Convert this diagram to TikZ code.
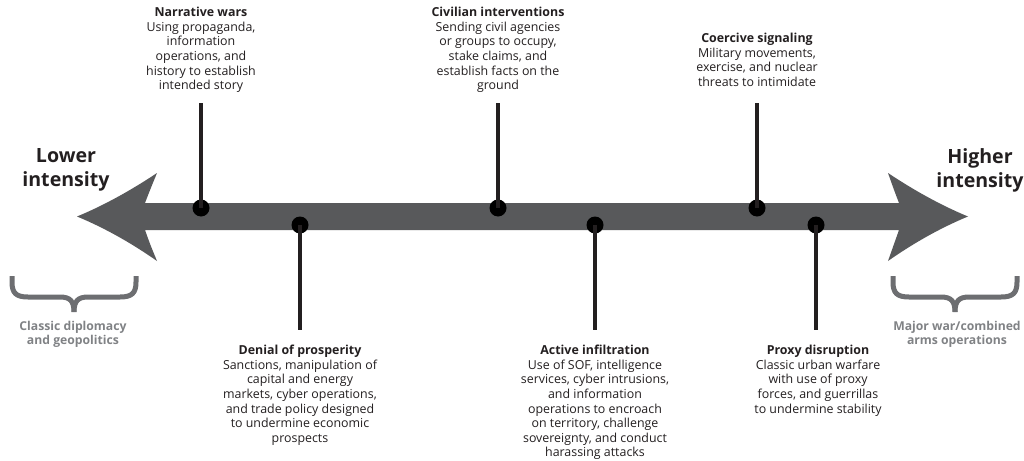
\documentclass[tikz,border=0pt]{standalone}
\usepackage{fontspec}
\setmainfont{Open Sans}
\definecolor{arrowgray}{HTML}{58595B}
\definecolor{bracegray}{HTML}{6D6E71}
\definecolor{notegray}{HTML}{808285}
\definecolor{ink}{HTML}{231F20}
\tikzset{
  desc/.style={align=center, text=ink, font=\fontsize{12.4}{14.6}\selectfont, inner sep=0pt},
  endlabel/.style={align=center, text=ink, font=\fontsize{19.6}{24}\selectfont\bfseries, inner sep=0pt},
  note/.style={align=center, text=notegray, font=\fontsize{12.2}{14}\selectfont\bfseries, inner sep=0pt},
  stem/.style={line width=4pt, ink},
  dot/.style={circle, fill=black, minimum size=17pt, inner sep=0pt},
  bracket/.style={line width=5pt, bracegray, line cap=butt}
}
\begin{document}
\begin{tikzpicture}[x=1pt,y=-1pt]
\useasboundingbox (0,0) rectangle (1024,460);
% big double arrow
\fill[arrowgray] (899,203) .. controls (894,190) .. (888,173)
  .. controls (918,193) and (945,207) .. (968,216.5)
  .. controls (945,226) and (918,240) .. (888,261)
  .. controls (894,244) .. (899,230)
  -- (145,230) .. controls (150,244) .. (157,261)
  .. controls (127,240) and (100,226) .. (77,216.5)
  .. controls (100,207) and (127,193) .. (157,173)
  .. controls (150,190) .. (145,203) -- cycle;
% end labels
\node[endlabel] (low) at (66,170) {Lower\\intensity};
\node[endlabel] (high) at (980,170) {Higher\\intensity};
% braces
\draw[bracket] (12,276) -- (12,282) .. controls (12,293) and (16,297) .. (28,297) -- (60,297) .. controls (70,297) and (74,301) .. (74,312);
\draw[bracket] (136,276) -- (136,282) .. controls (136,293) and (132,297) .. (120,297) -- (88,297) .. controls (78,297) and (74,301) .. (74,312);
\draw[bracket] (893,276) -- (893,282) .. controls (893,293) and (897,297) .. (909,297) -- (941,297) .. controls (951,297) and (955,301) .. (955,312);
\draw[bracket] (1017,276) -- (1017,282) .. controls (1017,293) and (1013,297) .. (1001,297) -- (969,297) .. controls (959,297) and (955,301) .. (955,312);
\node[note] (lownote) at (73,334) {Classic diplomacy\\and geopolitics};
\node[note] (highnote) at (957,334) {Major war/combined\\arms operations};
% top items
\node[desc, anchor=north] (nw) at (201,7) {\textbf{Narrative wars}\\Using propaganda,\\information\\operations, and\\history to establish\\intended story};
\node[desc, anchor=north] (ci) at (498,7) {\textbf{Civilian interventions}\\Sending civil agencies\\or groups to occupy,\\stake claims, and\\establish facts on the\\ground};
\node[desc, anchor=north] (cs) at (757,33) {\textbf{Coercive signaling}\\Military movements,\\exercise, and nuclear\\threats to intimidate};
\node[dot] (nwd) at (201,208) {};
\node[dot] (cid) at (498,208) {};
\node[dot] (csd) at (757,208) {};
\coordinate (nwt) at (201,103);
\coordinate (cit) at (498,103);
\coordinate (cst) at (757,103);
\draw[stem] (nwt) -- (nwd.center);
\draw[stem] (cit) -- (cid.center);
\draw[stem] (cst) -- (csd.center);
% bottom items
\node[dot] (dpd) at (300,225) {};
\node[dot] (aid) at (595,225) {};
\node[dot] (pdd) at (816,225) {};
\coordinate (dpb) at (300,330);
\coordinate (aib) at (595,330);
\coordinate (pdb) at (816,330);
\draw[stem] (dpd.center) -- (dpb);
\draw[stem] (aid.center) -- (aib);
\draw[stem] (pdd.center) -- (pdb);
\node[desc, anchor=north] (dp) at (300,345) {\textbf{Denial of prosperity}\\Sanctions, manipulation of\\capital and energy\\markets, cyber operations,\\and trade policy designed\\to undermine economic\\prospects};
\node[desc, anchor=north] (ai) at (595,345) {\textbf{Active infiltration}\\Use of SOF, intelligence\\services, cyber intrusions,\\and information\\operations to encroach\\on territory, challenge\\sovereignty, and conduct\\harassing attacks};
\node[desc, anchor=north] (pd) at (818,345) {\textbf{Proxy disruption}\\Classic urban warfare\\with use of proxy\\forces, and guerrillas\\to undermine stability};
\end{tikzpicture}
\end{document}
